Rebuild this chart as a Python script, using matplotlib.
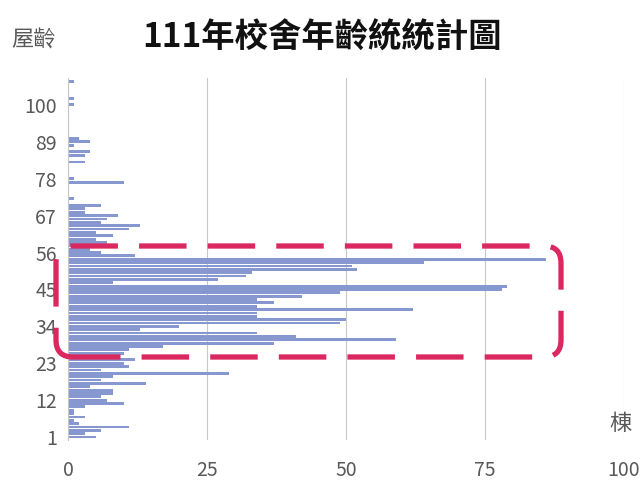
import matplotlib
matplotlib.use('Agg')
import matplotlib.pyplot as plt
from matplotlib.patches import FancyBboxPatch
import numpy as np

plt.rcParams['font.family'] = ['Noto Sans CJK TC', 'DejaVu Sans']

# building age (years) and number of buildings
AGES = np.arange(1, 108)
COUNTS = [
    5, 3, 6, 11, 2, 1, 3, 1, 1, 3,          # 1-10
    10, 7, 6, 8, 8, 4, 14, 6, 8, 29,        # 11-20
    6, 11, 10, 12, 9, 10, 11, 17, 37, 59,   # 21-30
    41, 34, 13, 20, 49, 50, 34, 34, 62, 34, # 31-40
    37, 34, 42, 49, 78, 79, 8, 27, 32, 33,  # 41-50
    52, 51, 64, 86, 12, 6, 4, 9, 7, 5,      # 51-60
    8, 5, 11, 13, 6, 7, 9, 3, 3, 6,         # 61-70
    0, 1, 0, 0, 0, 0, 10, 1, 0, 0,          # 71-80
    0, 0, 3, 0, 3, 4, 0, 1, 4, 2,           # 81-90
    0, 0, 0, 0, 0, 0, 0, 0, 0, 1,           # 91-100
    0, 1, 0, 0, 0, 0, 1,                    # 101-107
]
AGE_TICKS = [1, 12, 23, 34, 45, 56, 67, 78, 89, 100]
X_TICKS = [0, 25, 50, 75, 100]
TITLE = '111年校舍年齡統統計圖'

BAR_COLOR = '#8797cf'
GREY = '#595959'

fig = plt.figure(figsize=(6.42, 4.88), dpi=100)
ax = fig.add_axes([0.106, 0.0975, 0.866, 0.7425])

ax.barh(AGES, COUNTS, height=0.85, color=BAR_COLOR, zorder=2)

ax.set_xlim(0, 100)
ax.set_ylim(0, 108)
ax.set_xticks(X_TICKS)
ax.set_yticks(AGE_TICKS)
ax.grid(True, axis='x', color='#c8c8c8', lw=0.8, zorder=0)
ax.tick_params(axis='both', length=0, labelsize=14, labelcolor=GREY)
ax.tick_params(axis='x', pad=14)
ax.tick_params(axis='y', pad=8)
for s in ['top', 'right', 'bottom']:
    ax.spines[s].set_visible(False)
ax.spines['left'].set_color('#c8c8c8')
ax.spines['left'].set_linewidth(0.8)

fig.text(0.502, 0.922, TITLE, ha='center', va='center',
         fontsize=24, fontweight='bold', color='#111111')
fig.text(0.052, 0.918, '屋齡', ha='center', va='center',
         fontsize=16, color=GREY)
fig.text(0.966, 0.132, '棟', ha='center', va='center',
         fontsize=16, color=GREY)

# dashed highlight around the 24-55 year group
box = FancyBboxPatch((0.56, 1.31), 5.05, 1.11,
                     boxstyle='round,pad=0,rounding_size=0.17',
                     transform=fig.dpi_scale_trans, fill=False,
                     edgecolor='#dc2860', lw=3.8, ls=(0, (9, 4)),
                     zorder=5)
fig.add_artist(box)

fig.savefig('out.png', dpi=100)
